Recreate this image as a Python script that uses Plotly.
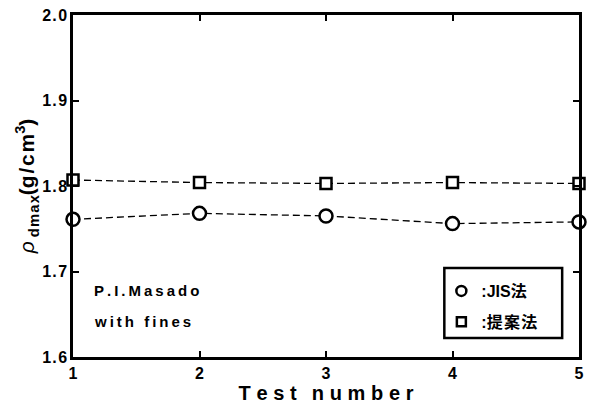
import plotly.graph_objects as go

test_no = [1, 2, 3, 4, 5]
jis = [1.761, 1.768, 1.765, 1.756, 1.758]
proposed = [1.807, 1.804, 1.803, 1.804, 1.803]

y_ticks = [1.6, 1.7, 1.8, 1.9, 2.0]
y_ticktext = ["1.6", "1.7", "1.8", "1.9", "2.0"]
x_ticks = [1, 2, 3, 4, 5]
x_ticktext = ["1", "2", "3", "4", "5"]

THIN = "\u2009"
HAIR = "\u200a"


def spaced(s, sep=THIN):
    return sep.join(list(s))


FONT = "Liberation Sans, Arial, sans-serif"
CJK = "Liberation Sans, Arial, Noto Sans CJK JP, sans-serif"

fig = go.Figure()
fig.add_trace(go.Scatter(
    x=test_no, y=proposed, mode="lines+markers", name=":提案法",
    line=dict(color="black", width=1.3, dash="7px,4px"),
    marker=dict(symbol="square", size=11, color="white", line=dict(color="black", width=2.5)),
    cliponaxis=False, showlegend=False))
fig.add_trace(go.Scatter(
    x=test_no, y=jis, mode="lines+markers", name=":JIS法",
    line=dict(color="black", width=1.3, dash="7px,4px"),
    marker=dict(symbol="circle", size=13, color="white", line=dict(color="black", width=2.5)),
    cliponaxis=False, showlegend=False))

# legend-only entries (markers without the dashed line)
fig.add_trace(go.Scatter(
    x=[None], y=[None], mode="markers", name=":JIS法", legendgroup="a",
    marker=dict(symbol="circle", size=10, color="white", line=dict(color="black", width=2.5))))
fig.add_trace(go.Scatter(
    x=[None], y=[None], mode="markers", name=":" + spaced("提案法", HAIR), legendgroup="b",
    marker=dict(symbol="square", size=9, color="white", line=dict(color="black", width=2.5))))

axis_common = dict(
    showline=True, linecolor="black", linewidth=2.5, mirror="ticks",
    ticks="inside", ticklen=6, tickwidth=2, tickcolor="black",
    showgrid=False, zeroline=False,
    tickfont=dict(family=FONT, size=16, color="black", weight="bold"),
)

fig.update_layout(
    width=590, height=408,
    margin=dict(l=73, r=6, t=15, b=51),
    plot_bgcolor="white", paper_bgcolor="white",
    xaxis=dict(range=[1, 5], tickvals=x_ticks,
               ticktext=["<b>" + t + "</b>" for t in x_ticktext],
               title=dict(text="<b>" + spaced("Test", THIN + HAIR) + "\u00a0\u00a0" + THIN
                          + spaced("number", THIN + HAIR) + "</b>", standoff=4,
                          font=dict(family=FONT, size=20, color="black", weight="bold")),
               **axis_common),
    yaxis=dict(range=[1.6, 2.0], tickvals=y_ticks,
               ticktext=["<b>" + spaced(t, HAIR) + "</b>" for t in y_ticktext],
               title=dict(text="<i>ρ</i><sub><b> " + spaced("dmax", HAIR) + "</b></sub><b>("
                          + spaced("g/cm", HAIR) + "<sup>3</sup>)</b>",
                          standoff=2,
                          font=dict(family=FONT, size=21, color="black")),
               **axis_common),
    showlegend=True,
    legend=dict(x=(445 - 73) / 511, y=(357 - 274) / 342, xanchor="left", yanchor="top",
                bgcolor="rgba(0,0,0,0)", borderwidth=0,
                traceorder="grouped", tracegroupgap=7,
                font=dict(family=CJK, size=16, color="black", weight="bold")),
    shapes=[dict(type="rect", xref="paper", yref="paper",
                 x0=(448 - 73) / 511, x1=(567 - 73) / 511,
                 y0=(357 - 338) / 342, y1=(357 - 268) / 342,
                 line=dict(color="black", width=2.5), fillcolor="rgba(0,0,0,0)", layer="above")],
)

fig.add_annotation(xref="x", yref="y", x=1.15, y=1.678, xanchor="left", yanchor="middle",
                   text="<b>" + spaced("P.I.Masado") + "</b>", showarrow=False,
                   font=dict(family=FONT, size=15, color="black", weight="bold"))
fig.add_annotation(xref="x", yref="y", x=1.15, y=1.642, xanchor="left", yanchor="middle",
                   text="<b>" + spaced("with fines") + "</b>", showarrow=False,
                   font=dict(family=FONT, size=15, color="black", weight="bold"))

fig.write_html("out.html")
